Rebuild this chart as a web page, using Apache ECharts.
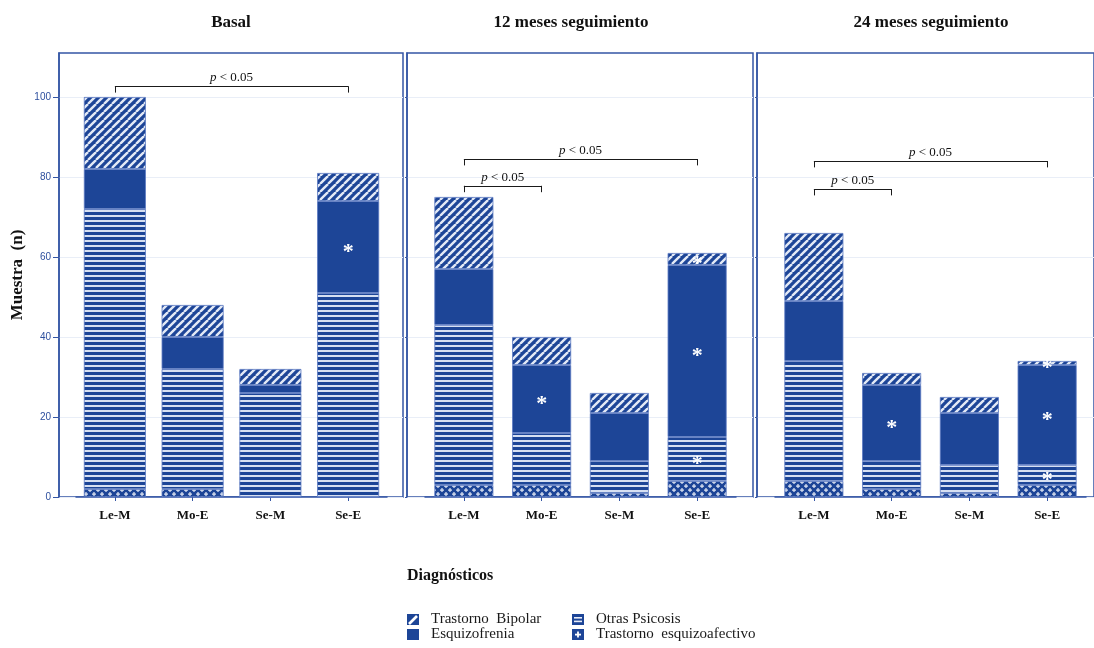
<!DOCTYPE html>
<html>
<head>
<meta charset="utf-8">
<script src="https://cdn.jsdelivr.net/npm/echarts@6/dist/echarts.min.js"></script>
<style>
  html, body { margin: 0; padding: 0; background: #ffffff; }
  #chart { width: 1094px; height: 648px; }
</style>
</head>
<body>
<div id="chart"></div>
<script>
// ---- Data -------------------------------------------------------------
const categorias = ['Le-M', 'Mo-E', 'Se-M', 'Se-E'];
const periodos = ['Basal', '12 meses seguimiento', '24 meses seguimiento'];
const diagnosticos = ['Trastorno  Bipolar', 'Esquizofrenia', 'Otras Psicosis', 'Trastorno  esquizoafectivo'];
const tituloLeyenda = 'Diagnósticos';
const tituloEjeY = 'Muestra  (n)';
const ticksY = [0, 20, 40, 60, 80, 100];

// Basal
const esquizoafectivoBasal = [2, 2, 0, 0];
const otrasBasal = [70, 30, 26, 51];
const esquizofreniaBasal = [10, 8, 2, 23];
const bipolarBasal = [18, 8, 4, 7];

// 12 meses
const esquizoafectivo12 = [3, 3, 1, 4];
const otras12 = [40, 13, 8, 11];
const esquizofrenia12 = [14, 17, 12, 43];
const bipolar12 = [18, 7, 5, 3];

// 24 meses
const esquizoafectivo24 = [4, 2, 1, 3];
const otras24 = [30, 7, 7, 5];
const esquizofrenia24 = [15, 19, 13, 25];
const bipolar24 = [17, 3, 4, 1];

// Segments flagged with an asterisk (1 = significant)
const sinMarca = [0, 0, 0, 0];
const marcaEsquizofreniaBasal = [0, 0, 0, 1];
const marcaBipolar12 = [0, 0, 0, 1];
const marcaEsquizofrenia12 = [0, 1, 0, 1];
const marcaOtras12 = [0, 0, 0, 1];
const marcaBipolar24 = [0, 0, 0, 1];
const marcaEsquizofrenia24 = [0, 1, 0, 1];
const marcaOtras24 = [0, 0, 0, 1];

// Comparison brackets: [from, to, height]
const llavesBasal = [['Le-M', 'Se-E', 102.7]];
const llaves12 = [['Le-M', 'Se-E', 84.5], ['Le-M', 'Mo-E', 77.8]];
const llaves24 = [['Le-M', 'Se-E', 84], ['Le-M', 'Mo-E', 77]];

const ejeMax = 111;
const ejeIntervalo = 20;

// ---- Styling ----------------------------------------------------------
const AZUL = '#1d4597';
const CLARO = '#e4eaf6';
const BORDE = '#3556a5';
const SERIF = "'Liberation Serif', 'Times New Roman', serif";
const SANS = "'Liberation Sans', Arial, sans-serif";

function lienzo(w, h, dibujar) {
  const c = document.createElement('canvas');
  c.width = w; c.height = h;
  const ctx = c.getContext('2d');
  ctx.fillStyle = AZUL;
  ctx.fillRect(0, 0, w, h);
  dibujar(ctx, w, h);
  return c;
}

function diagonales(ctx, w, h) {
  ctx.strokeStyle = CLARO;
  ctx.lineWidth = 2.4;
  for (let x = -w; x <= w; x += w) {
    ctx.beginPath();
    ctx.moveTo(x, h);
    ctx.lineTo(x + w, 0);
    ctx.stroke();
  }
}
function horizontales(ctx, w, h) {
  ctx.fillStyle = '#d7e0f2';
  ctx.fillRect(0, 0, w, 2);
}
function cruces(ctx, w, h) {
  ctx.fillStyle = CLARO;
  const cruz = (cx, cy) => {
    ctx.fillRect(cx - 2, cy - 0.5, 4, 1.2);
    ctx.fillRect(cx - 0.6, cy - 2, 1.2, 4);
  };
  cruz(2, 2); cruz(6, 6);
}

const patronBipolar = { image: lienzo(8, 8, diagonales), repeat: 'repeat' };
const patronOtras = { image: lienzo(4, 5, horizontales), repeat: 'repeat' };
const patronEsquizoafectivo = { image: lienzo(8, 8, cruces), repeat: 'repeat' };

// Legend icons
const iconoBipolar = lienzo(12, 11, (ctx) => {
  ctx.strokeStyle = '#ffffff'; ctx.lineWidth = 2.6;
  ctx.beginPath(); ctx.moveTo(2, 10); ctx.lineTo(10, 2); ctx.stroke();
}).toDataURL();
const iconoEsquizofrenia = lienzo(12, 11, () => {}).toDataURL();
const iconoOtras = lienzo(12, 11, (ctx) => {
  ctx.fillStyle = '#e8edf8';
  ctx.fillRect(2, 3, 8, 1.6); ctx.fillRect(2, 6.6, 8, 1.6);
}).toDataURL();
const iconoEsquizoafectivo = lienzo(12, 11, (ctx) => {
  ctx.fillStyle = '#ffffff';
  ctx.fillRect(3, 4.7, 6, 1.8); ctx.fillRect(5.1, 2.5, 1.8, 6);
}).toDataURL();

// ---- Layout of the three panels ---------------------------------------
const TOP = 53, ALTO = 444;
const paneles = [
  { marcoIzq: 59, marcoAncho: 344, izq: 76, ancho: 311, barra: 62, titulo: 231 },
  { marcoIzq: 407, marcoAncho: 346, izq: 425, ancho: 311, barra: 59, titulo: 571 },
  { marcoIzq: 757, marcoAncho: 346, izq: 775, ancho: 311, barra: 59, titulo: 931 }
];

const valores = [
  [esquizoafectivoBasal, otrasBasal, esquizofreniaBasal, bipolarBasal],
  [esquizoafectivo12, otras12, esquizofrenia12, bipolar12],
  [esquizoafectivo24, otras24, esquizofrenia24, bipolar24]
];
const marcas = [
  [sinMarca, sinMarca, marcaEsquizofreniaBasal, sinMarca],
  [sinMarca, marcaOtras12, marcaEsquizofrenia12, marcaBipolar12],
  [sinMarca, marcaOtras24, marcaEsquizofrenia24, marcaBipolar24]
];
const llaves = [llavesBasal, llaves12, llaves24];
// stacking order bottom → top
const ordenPila = [3, 2, 1, 0];
const patrones = [patronBipolar, AZUL, patronOtras, patronEsquizoafectivo];

function segmentosLlave(lista) {
  const out = [];
  const bajada = 1.6;
  const etiqueta = {
    show: true,
    position: 'insideMiddleTop',
    distance: 2,
    formatter: '{i|p} < 0.05',
    color: '#111', fontFamily: SERIF, fontSize: 13,
    rich: { i: { fontStyle: 'italic', fontFamily: SERIF, fontSize: 13, color: '#111' } }
  };
  lista.forEach(([a, b, y]) => {
    out.push([{ coord: [a, y], label: etiqueta }, { coord: [b, y], label: etiqueta }]);
    out.push([{ coord: [a, y] }, { coord: [a, y - bajada] }]);
    out.push([{ coord: [b, y] }, { coord: [b, y - bajada] }]);
  });
  return out;
}

const grid = [], xAxis = [], yAxis = [], series = [], graphic = [];

paneles.forEach((p, i) => {
  const gMarco = 2 * i, gBarras = 2 * i + 1;
  grid.push({ left: p.marcoIzq, top: TOP, width: p.marcoAncho, height: ALTO,
    show: true, borderColor: BORDE, borderWidth: 1.5, backgroundColor: 'transparent' });
  grid.push({ left: p.izq, top: TOP, width: p.ancho, height: ALTO });

  xAxis.push({ type: 'value', gridIndex: gMarco, min: 0, max: 1, show: false });
  xAxis.push({
    type: 'category', gridIndex: gBarras, data: categorias,
    axisLine: { show: true, lineStyle: { color: BORDE, width: 1.5 } },
    axisTick: { show: true, alignWithLabel: true, length: 4, lineStyle: { color: BORDE } },
    axisLabel: { color: '#111', fontFamily: SERIF, fontWeight: 'bold', fontSize: 13, margin: 12 }
  });

  yAxis.push({
    type: 'value', gridIndex: gMarco, min: 0, max: ejeMax, interval: ejeIntervalo,
    name: i === 0 ? tituloEjeY : '',
    nameLocation: 'middle', nameGap: 33,
    nameTextStyle: { fontFamily: SERIF, fontWeight: 'bold', fontSize: 17, color: '#111' },
    axisLine: { show: true, lineStyle: { color: BORDE, width: 1.5 } },
    axisTick: { show: true, customValues: ticksY, length: i === 0 ? 6 : 2, lineStyle: { color: BORDE } },
    axisLabel: {
      show: i === 0, customValues: ticksY, margin: 8, fontFamily: SANS, fontSize: 10, color: '#2d4f9e'
    },
    splitLine: { show: true, lineStyle: { color: '#e9eef7', width: 1 } }
  });
  yAxis.push({ type: 'value', gridIndex: gBarras, min: 0, max: ejeMax, interval: ejeIntervalo, show: false,
    splitLine: { show: false } });

  ordenPila.forEach((d, k) => {
    const idxDatos = 3 - d; // valores[i] is ordered bottom → top
    const flags = marcas[i][idxDatos];
    const s = {
      name: diagnosticos[d],
      type: 'bar',
      stack: 'panel' + i,
      xAxisIndex: gBarras, yAxisIndex: gBarras,
      barWidth: p.barra,
      data: valores[i][idxDatos],
      itemStyle: { color: patrones[d], borderColor: '#5a79c2', borderWidth: 0.8 },
      label: {
        show: true, position: 'inside',
        formatter: prm => (flags[prm.dataIndex] ? '*' : ''),
        color: '#ffffff', fontFamily: SERIF, fontWeight: 'bold', fontSize: 22, offset: [0, 5]
      },
      emphasis: { disabled: true }
    };
    if (k === ordenPila.length - 1) {
      s.markLine = {
        silent: true, symbol: ['none', 'none'], animation: false,
        lineStyle: { color: '#1a1a1a', width: 1, type: 'solid' },
        label: { show: false },
        emphasis: { disabled: true },
        data: segmentosLlave(llaves[i])
      };
    }
    series.push(s);
  });

  graphic.push({
    type: 'text', x: p.titulo, y: 23,
    style: { text: periodos[i], fill: '#111', font: "bold 17px " + SERIF, textAlign: 'center', textVerticalAlign: 'middle' }
  });
});

graphic.push({
  type: 'text', x: 407, y: 576,
  style: { text: tituloLeyenda, fill: '#111', font: "bold 16px " + SERIF, textAlign: 'left', textVerticalAlign: 'middle' }
});

const estiloLeyenda = {
  orient: 'vertical', top: 612, itemWidth: 12, itemHeight: 11, itemGap: 0, padding: 0,
  selectedMode: false,
  textStyle: { fontFamily: SERIF, fontSize: 15, color: '#1a1a1a', lineHeight: 14, padding: [0, 0, 0, 7] }
};

const chart = echarts.init(document.getElementById('chart'), null, { renderer: 'canvas' });
chart.setOption({
  animation: false,
  backgroundColor: '#ffffff',
  grid, xAxis, yAxis, series, graphic,
  legend: [
    Object.assign({}, estiloLeyenda, { left: 407, data: [
      { name: diagnosticos[0], icon: 'image://' + iconoBipolar },
      { name: diagnosticos[1], icon: 'image://' + iconoEsquizofrenia }
    ] }),
    Object.assign({}, estiloLeyenda, { left: 572, data: [
      { name: diagnosticos[2], icon: 'image://' + iconoOtras },
      { name: diagnosticos[3], icon: 'image://' + iconoEsquizoafectivo }
    ] })
  ]
});
</script>
</body>
</html>
